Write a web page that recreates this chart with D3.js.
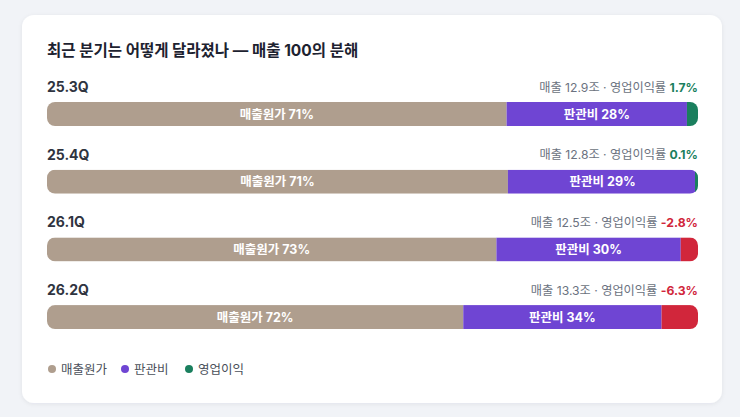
<!DOCTYPE html>
<html><head><meta charset="utf-8">
<script src="https://cdn.jsdelivr.net/npm/d3@7"></script>
<style>
html,body{margin:0;padding:0;background:#f1f3f7;}
body{width:740px;height:417px;overflow:hidden;font-family:Inter,"Noto Sans CJK KR","Noto Sans",sans-serif;}
svg text{font-family:Inter,"Noto Sans CJK KR","Noto Sans",sans-serif;}
</style></head><body>
<svg id="c" width="740" height="417"></svg>
<script>
const quarters = ["25.3Q","25.4Q","26.1Q","26.2Q"];
const sales = [12.9, 12.8, 12.5, 13.3];
const costPct = [70.6, 70.8, 72.9, 72.0];
const sgaPct = [27.7, 29.1, 29.9, 34.3];
const opMargin = [1.7, 0.1, -2.8, -6.3];
const seriesNames = ["매출원가","판관비","영업이익"];
const colors = {cost:"#af9e8e", sga:"#6f45d3", pos:"#1a7f5e", neg:"#d1263b"};

const svg = d3.select("#c");
const defs = svg.append("defs");
const f = defs.append("filter").attr("id","sh").attr("x","-10%").attr("y","-10%").attr("width","120%").attr("height","120%");
f.append("feDropShadow").attr("dx",0).attr("dy",1).attr("stdDeviation",2).attr("flood-color","#1e2a50").attr("flood-opacity",0.07);
svg.append("rect").attr("x",22).attr("y",15).attr("width",700).attr("height",388).attr("rx",12).attr("fill","#fff").attr("filter","url(#sh)");

svg.append("text").attr("x",47).attr("y",56).attr("font-size",15.5).attr("font-weight",700).attr("fill","#1d2230")
  .text("최근 분기는 어떻게 달라졌나 — 매출 100의 분해");

const x0 = 47, x1 = 698, barH = 24;
quarters.forEach((q,i)=>{
  const top = 102 + i*67.7;
  const total = costPct[i] + sgaPct[i] + Math.abs(opMargin[i]);
  const xs = d3.scaleLinear().domain([0,total]).range([x0,x1]);
  const g = svg.append("g");
  g.append("text").attr("x",x0).attr("y",top-10).attr("font-size",14).attr("font-weight",700).attr("fill","#2f3440").text(q);
  const mcol = opMargin[i] >= 0 ? colors.pos : colors.neg;
  const t = g.append("text").attr("x",x1).attr("y",top-10.5).attr("text-anchor","end").attr("font-size",12.2);
  t.append("tspan").attr("fill","#6b7280").text(`매출 ${sales[i].toFixed(1)}조 · 영업이익률 `);
  t.append("tspan").attr("fill",mcol).attr("font-weight",700).text(`${opMargin[i].toFixed(1)}%`);
  const cid = "clip"+i;
  defs.append("clipPath").attr("id",cid).append("rect").attr("x",x0).attr("y",top).attr("width",x1-x0).attr("height",barH).attr("rx",8);
  const bg = g.append("g").attr("clip-path",`url(#${cid})`);
  const segs = [
    {a:0,b:costPct[i],c:colors.cost,label:`매출원가 ${Math.round(costPct[i])}%`},
    {a:costPct[i],b:costPct[i]+sgaPct[i],c:colors.sga,label:`판관비 ${Math.round(sgaPct[i])}%`},
    {a:costPct[i]+sgaPct[i],b:total,c:mcol,label:null,minW:3}
  ];
  segs.forEach(s=>{
    let xa = xs(s.a), xb = xs(s.b);
    if(s.minW && xb-xa < s.minW) xa = xb - s.minW;
    bg.append("rect").attr("x",xa).attr("y",top).attr("width",xb-xa).attr("height",barH).attr("fill",s.c);
  });
  segs.forEach(s=>{
    if(s.label) g.append("text").attr("x",(xs(s.a)+xs(s.b))/2).attr("y",top+barH/2+4.5).attr("text-anchor","middle")
      .attr("font-size",12.5).attr("font-weight",700).attr("fill","#fff").text(s.label);
  });
});

const leg = [{n:seriesNames[0],c:colors.cost,x:52},{n:seriesNames[1],c:colors.sga,x:125},{n:seriesNames[2],c:colors.pos,x:189}];
leg.forEach(l=>{
  svg.append("circle").attr("cx",l.x).attr("cy",369).attr("r",4).attr("fill",l.c);
  svg.append("text").attr("x",l.x+9).attr("y",373.5).attr("font-size",12.5).attr("fill","#4a4f5a").text(l.n);
});
</script></body></html>
